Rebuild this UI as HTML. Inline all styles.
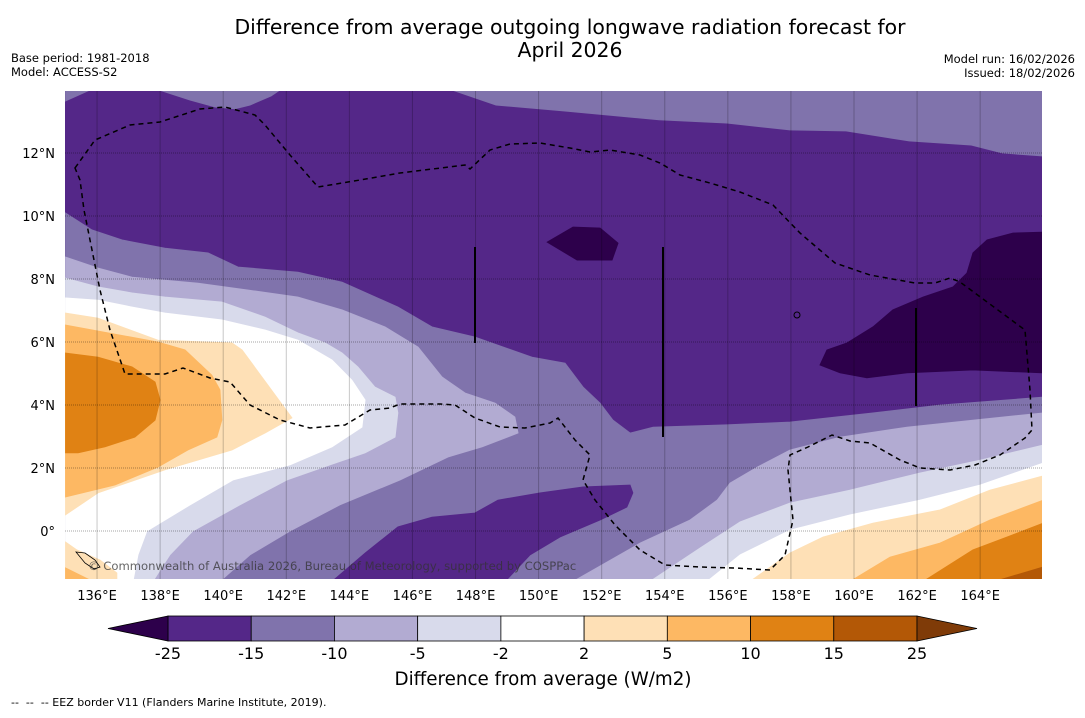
<!DOCTYPE html>
<html><head><meta charset="utf-8"><style>
body{margin:0;background:#fff;width:1085px;height:713px;overflow:hidden;font-family:"Liberation Sans",sans-serif}
svg text{font-family:"DejaVu Sans","Liberation Sans",sans-serif}
</style></head><body>
<svg id="chart" width="1085" height="713" viewBox="0 0 1085 713">
<text x="570" y="34" text-anchor="middle" font-size="20.4">Difference from average outgoing longwave radiation forecast for</text>
<text x="570" y="57" text-anchor="middle" font-size="20.4">April 2026</text>
<text x="11" y="62" font-size="11.5">Base period: 1981-2018</text>
<text x="11" y="76" font-size="11.5">Model: ACCESS-S2</text>
<text x="1075" y="63" font-size="11.5" text-anchor="end">Model run: 16/02/2026</text>
<text x="1075" y="77" font-size="11.5" text-anchor="end">Issued: 18/02/2026</text>
<defs><clipPath id="mapclip"><rect x="65" y="91" width="977" height="488"/></clipPath></defs>
<g id="fills" clip-path="url(#mapclip)"></g>
<g id="grid"></g>
<g clip-path="url(#mapclip)">
<path fill="none" stroke="#000" stroke-width="1.5" stroke-dasharray="5,4" d="M75,168 L95,140 L130,125 L160,122 L200,109 L225,107 L255,115 L265,125 L290,155 L318,187 L330,185 L360,180 L400,173 L465,165 L470,169 L490,150 L510,144 L540,143 L570,148 L590,152 L610,150 L640,155 L660,163 L680,175 L710,183 L740,192 L773,205 L800,233 L835,263 L870,275 L915,283 L935,283 L950,278 L960,282 L1025,330 L1030,390 L1032,430 L1025,438 L1000,455 L975,465 L950,470 L920,468 L900,460 L870,443 L850,441 L832,435 L808,447 L790,455 L788,470 L793,520 L785,555 L770,570 L735,568 L700,567 L665,565 L640,550 L615,525 L595,500 L583,480 L590,455 L575,440 L558,418 L550,423 L525,428 L500,427 L475,418 L455,405 L440,404 L400,404 L390,408 L370,410 L345,425 L310,428 L280,420 L250,405 L237,390 L230,382 L210,378 L183,368 L165,374 L125,374 L110,330 L100,290 L90,240 L84,210 L80,180 Z"/>
<line x1="475" y1="247" x2="475" y2="343" stroke="#000" stroke-width="2"/>
<line x1="663" y1="247" x2="663" y2="437" stroke="#000" stroke-width="2"/>
<line x1="916" y1="308" x2="916" y2="406" stroke="#000" stroke-width="2"/>
<path d="M76,552 L85,553 L95,560 L100,567 L94,569 L85,563 Z" fill="none" stroke="#000" stroke-width="0.8"/>
<circle cx="797" cy="315" r="3" fill="none" stroke="#000"/>
</g>
<text x="88" y="570" font-size="11.6" fill="#333" fill-opacity="0.75">© Commonwealth of Australia 2026, Bureau of Meteorology, supported by COSPPac</text>
<g id="axes"></g>
<g id="cbar"></g>
<text x="543" y="685" text-anchor="middle" font-size="18.3">Difference from average (W/m2)</text>
<text x="11" y="706" font-size="11" xml:space="preserve" style="white-space:pre">--  --  -- EEZ border V11 (Flanders Marine Institute, 2019).</text>
</svg>
<script>
const lonTicks=[136,138,140,142,144,146,148,150,152,154,156,158,160,162,164];
const latTicks=[0,2,4,6,8,10,12];
const cbLevels=[-25,-15,-10,-5,-2,2,5,10,15,25];
const cbColors=["#542788","#8073ac","#b2abd2","#d8daeb","#ffffff","#fee0b6","#fdb863","#e08214","#b35806"];
const cbUnder="#2d004b", cbOver="#7f3b08";
// contour regions in [lon,lat]
const topBandA=[[135,13.65],[135.78,14],[135,14]];
const topBandB=[[137.96,14],[138.95,13.68],[139.74,13.46],[140.37,13.40],[140.85,13.52],[141.52,13.81],[141.8,14]];
const topBandC=[[147.25,14],[148.65,13.52],[150.84,13.33],[153.82,13.05],[155.97,12.95],[157.97,12.73],[159.75,12.70],[161.75,12.38],[163.72,12.25],[164.70,12.0],[166,11.9],[166,14]];
const midRegion=[[135,10.10],[135.84,9.56],[136.79,9.24],[138.15,8.98],[139.52,8.83],[140.47,8.38],[142.37,8.22],[143.77,7.90],[145.54,7.11],[146.62,6.48],[147.98,6.16],[149.79,5.52],[150.84,5.33],[151.41,4.57],[151.95,4.06],[152.36,3.52],[152.90,3.11],[153.63,3.30],[155.97,3.37],[157.97,3.46],[160.60,3.75],[162.73,4.0],[166,4.25],[166,-1.6],[135,-1.6]];
const darkSouth=[[143.45,-1.6],[144.50,-0.70],[145.54,0.13],[146.62,0.44],[147.98,0.57],[148.71,0.98],[150.04,1.21],[151.41,1.40],[152.90,1.46],[152.99,1.21],[152.80,0.76],[151.95,0.35],[150.68,-0.19],[149.73,-0.76],[148.94,-1.6]];
const lav10W=[[135,8.70],[136.03,8.35],[137.11,8.06],[139.20,7.87],[140.79,7.65],[142.37,7.43],[143.77,7.02],[145.13,6.48],[146.18,5.84],[146.94,4.89],[147.67,4.38],[148.62,4.06],[149.25,3.62],[149.35,3.11],[148.21,2.67],[147.13,2.35],[145.61,1.62],[143.70,0.83],[142.12,0],[140.85,-0.76],[139.90,-1.6],[135,-1.6]];
const lav10E=[[151.09,-1.6],[153.22,-0.38],[154.80,0.35],[155.66,0.98],[156.07,1.52],[156.93,2.03],[157.97,2.57],[159.56,2.98],[161.68,3.30],[163.77,3.52],[166,3.75],[166,-1.6]];
const lav5W=[[135,8.03],[136.03,7.75],[137.11,7.56],[138.15,7.43],[139.96,7.27],[141.33,6.79],[142.37,6.29],[143.23,5.97],[143.77,5.65],[144.27,5.21],[144.81,4.57],[145.45,4.25],[145.54,3.75],[145.45,2.98],[144.50,2.48],[143.39,2.10],[142.02,1.62],[140.53,0.83],[139.04,0],[138.31,-0.76],[137.77,-1.6],[135,-1.6]];
const lav5E=[[153.53,-1.6],[155.12,-0.54],[156.39,0.29],[157.97,0.89],[159.87,1.30],[162.09,1.84],[164.0,2.25],[166,2.73],[166,-1.6]];
const neutW=[[135,7.40],[136.03,7.33],[137.11,7.11],[138.15,6.92],[139.96,6.70],[141.33,6.38],[142.37,6.06],[143.45,5.43],[144.08,4.79],[144.50,4.16],[144.40,3.30],[143.45,2.67],[142.12,2.10],[140.31,1.62],[138.95,0.83],[137.58,0],[137.30,-0.76],[137.14,-1.6],[135,-1.6]];
const neutE=[[155.34,-1.6],[156.39,-0.76],[157.97,0.03],[159.87,0.51],[162.09,0.98],[164.0,1.46],[166,2.16],[166,-1.6]];
const pos2W=[[135,6.92],[136.03,6.76],[137.93,6.06],[140.28,5.97],[140.60,5.75],[142.18,3.59],[141.33,3.11],[140.28,2.57],[138.15,1.94],[136.03,1.21],[135,0.51]];
const pos2SW=[[135,-0.35],[135.36,-0.60],[136.09,-0.92],[136.63,-1.33],[136.63,-1.6],[135,-1.6]];
const pos5SW=[[135,-1.17],[135.87,-1.6],[135,-1.6]];
const pos5W=[[135,6.54],[137.93,6.0],[138.79,5.75],[139.64,4.95],[139.90,4.48],[139.96,3.52],[139.80,2.98],[138.88,2.57],[137.93,2.03],[136.57,1.46],[135,1.08]];
const pos10W=[[135,5.65],[136.03,5.52],[137.11,5.21],[137.84,4.73],[138.0,4.16],[137.84,3.52],[137.20,2.98],[136.25,2.67],[135.40,2.48],[135,2.48]];
const pos2E=[[156.70,-1.6],[157.97,-0.70],[159.02,-0.19],[160.60,0.25],[162.73,0.67],[164.31,1.30],[166,1.75],[166,-1.6]];
const pos5E=[[159.87,-1.6],[161.14,-0.83],[162.73,-0.38],[164.31,0.35],[166,0.98],[166,-1.6]];
const pos10E=[[162.19,-1.6],[163.77,-0.60],[164.85,-0.19],[166,0.25],[166,-1.6]];
const pos15E=[[164.45,-1.6],[166,-1.14],[166,-1.6]];
const neg25A=[[150.27,9.17],[151.09,9.65],[151.95,9.62],[152.52,9.14],[152.33,8.60],[151.22,8.60]];
const neg25B=[[158.92,5.27],[159.14,5.75],[159.78,5.97],[160.60,6.48],[161.23,7.02],[162.19,7.43],[163.14,7.75],[163.58,8.19],[163.77,8.83],[164.22,9.24],[165.04,9.46],[166,9.49],[166,5.02],[163.77,5.11],[161.68,5.02],[160.41,4.86],[159.56,5.02]];

const NS="http://www.w3.org/2000/svg";
const X0=65.5,XS=31.54,Y0=531,YS=31.5;
function xs(lon){return X0+(lon-135)*XS;}
function ys(lat){return Y0-lat*YS;}
function mk(t,a,p){const e=document.createElementNS(NS,t);for(const k in a)e.setAttribute(k,a[k]);p.appendChild(e);return e;}
const fills=document.getElementById('fills');
const bg=mk('rect',{x:65,y:91,width:977,height:488,fill:"#542788"},fills);


const layers=[
 [topBandA,"#8073ac","region-top-west"],[topBandB,"#8073ac","region-top-mid"],[topBandC,"#8073ac","region-top-east"],
 [midRegion,"#8073ac","region-minus15-to-minus10"],[darkSouth,"#542788","region-south-minus15"],
 [lav10W,"#b2abd2","region-minus10-west"],[lav10E,"#b2abd2","region-minus10-east"],
 [lav5W,"#d8daeb","region-minus5-west"],[lav5E,"#d8daeb","region-minus5-east"],
 [neutW,"#ffffff","region-neutral-west"],[neutE,"#ffffff","region-neutral-east"],
 [pos2W,"#fee0b6","region-plus2-west"],[pos2SW,"#fee0b6","region-plus2-southwest"],[pos5SW,"#fdb863","region-plus5-southwest"],
 [pos5W,"#fdb863","region-plus5-west"],[pos10W,"#e08214","region-plus10-west"],
 [pos2E,"#fee0b6","region-plus2-east"],[pos5E,"#fdb863","region-plus5-east"],[pos10E,"#e08214","region-plus10-east"],[pos15E,"#b35806","region-plus15-east"],
 [neg25A,"#2d004b","region-below-minus25-a"],[neg25B,"#2d004b","region-below-minus25-b"]];
layers.forEach(L=>{
 const pts=L[0].map(p=>xs(p[0]).toFixed(1)+","+ys(p[1]).toFixed(1)).join(" ");
 const pg=mk('polygon',{points:pts,fill:L[1],stroke:L[1],"stroke-width":0.8},fills);
 
 
});
const grid=document.getElementById('grid'), axes=document.getElementById('axes');
lonTicks.forEach(v=>{
 const l=mk('line',{x1:xs(v),x2:xs(v),y1:91,y2:579,stroke:"#000","stroke-opacity":0.22,"stroke-width":1},grid);
 
 
 const t=mk('text',{x:xs(v),y:600,"text-anchor":"middle","font-size":13},axes);
 t.textContent=v+"°E";
 
 
});
latTicks.forEach(v=>{
 const l=mk('line',{x1:65,x2:1042,y1:ys(v),y2:ys(v),stroke:"#000","stroke-opacity":0.35,"stroke-width":1,"stroke-dasharray":"1,1"},grid);
 
 
 const t=mk('text',{x:55,y:ys(v)+5,"text-anchor":"end","font-size":13},axes);
 t.textContent=v===0?"0°":v+"°N";
 
 
});
// colorbar
const cb=document.getElementById('cbar');
const CX0=168,CX1=917,CY=616,CH=25,bw=(CX1-CX0)/cbColors.length;
cbColors.forEach((c,i)=>{
 const r=mk('rect',{x:CX0+i*bw,y:CY,width:bw,height:CH,fill:c,stroke:"#000","stroke-width":0.8},cb);
 
 
});
const tl=mk('polygon',{points:`${CX0},${CY} 108,${CY+CH/2} ${CX0},${CY+CH}`,fill:cbUnder,stroke:"#000","stroke-width":0.8},cb);


const tr=mk('polygon',{points:`${CX1},${CY} 977,${CY+CH/2} ${CX1},${CY+CH}`,fill:cbOver,stroke:"#000","stroke-width":0.8},cb);


cbLevels.forEach((v,i)=>{
 const t=mk('text',{x:CX0+i*bw,y:659,"text-anchor":"middle","font-size":16},cb);
 t.textContent=v;
 
 
});
</script>
</body></html>
